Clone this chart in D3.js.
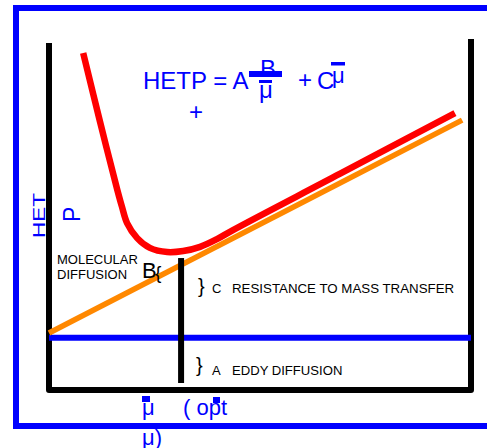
<!DOCTYPE html>
<html>
<head>
<meta charset="utf-8">
<script src="https://cdn.jsdelivr.net/npm/d3@7"></script>
<style>
  body { margin: 0; background: #fff; }
  svg { display: block; font-family: "Liberation Sans", Arial, sans-serif; }
</style>
</head>
<body>
<svg id="chart"></svg>
<script>
const WIDTH = 487;
const HEIGHT = 448;

// --- data (velocity u vs HETP, arbitrary units) ---
const hetpU = [0.81, 1.21, 1.62, 1.73, 1.85, 2.09, 2.39, 2.80, 3.18, 3.58, 3.98, 4.36, 6.90, 9.62];
const hetpH = [9.63, 7.66, 5.71, 5.23, 4.77, 4.34, 4.06, 3.94, 3.97, 4.09, 4.31, 4.57, 6.18, 7.91];
const massU = [0, 9.79];
const massH = [1.63, 7.71];
const eddyU = [0, 10];
const eddyH = [1.49, 1.49];
const optU = [3.13, 3.13];
const optH = [0.2, 3.77];

const BLUE = "#0000ff";

const svg = d3.select("#chart")
    .attr("width", WIDTH)
    .attr("height", HEIGHT);

const x = d3.scaleLinear().domain([0, 10]).range([49, 471]);
const y = d3.scaleLinear().domain([0, 10]).range([390, 40]);

const line = d3.line()
    .x(d => x(d[0]))
    .y(d => y(d[1]));

const smooth = d3.line()
    .x(d => x(d[0]))
    .y(d => y(d[1]))
    .curve(d3.curveCatmullRom.alpha(0.5));

// outer blue frame (open on the right)
svg.append("path")
    .attr("d", "M600,8 L16,8 L16,426 L600,426")
    .attr("fill", "none")
    .attr("stroke", BLUE)
    .attr("stroke-width", 6);

// black U-shaped axes
svg.append("path")
    .attr("d", `M${x(0)},43 L${x(0)},${y(0)} L${x(10)},${y(0)} L${x(10)},39`)
    .attr("fill", "none")
    .attr("stroke", "#000")
    .attr("stroke-width", 6)
    .attr("stroke-linejoin", "round");

// eddy diffusion (A term)
svg.append("path")
    .attr("d", line(d3.zip(eddyU, eddyH)))
    .attr("fill", "none")
    .attr("stroke", BLUE)
    .attr("stroke-width", 6);

// A + C*u line
svg.append("path")
    .attr("d", line(d3.zip(massU, massH)))
    .attr("fill", "none")
    .attr("stroke", "#ff8800")
    .attr("stroke-width", 5.5);

// HETP curve
svg.append("path")
    .attr("d", smooth(d3.zip(hetpU, hetpH)))
    .attr("fill", "none")
    .attr("stroke", "#ff0000")
    .attr("stroke-width", 6.5);

// optimum velocity marker
svg.append("path")
    .attr("d", line(d3.zip(optU, optH)))
    .attr("fill", "none")
    .attr("stroke", "#000")
    .attr("stroke-width", 6);

// --- equation ---
const eq = svg.append("g").attr("fill", BLUE).attr("font-size", 24);
eq.append("text").attr("x", 143).attr("y", 89).text("HETP = A");
eq.append("text").attr("x", 260).attr("y", 77).text("B");
eq.append("rect").attr("x", 249).attr("y", 71).attr("width", 33).attr("height", 6);
eq.append("rect").attr("x", 259).attr("y", 80).attr("width", 13).attr("height", 3);
eq.append("text").attr("x", 259).attr("y", 98).text("μ");
eq.append("text").attr("x", 298).attr("y", 88).text("+");
eq.append("text").attr("x", 317).attr("y", 89).text("C");
eq.append("rect").attr("x", 331).attr("y", 62).attr("width", 14).attr("height", 3.5);
eq.append("text").attr("x", 332).attr("y", 83).attr("font-size", 22).text("μ");
eq.append("text").attr("x", 189).attr("y", 120).text("+");

// --- y label ---
svg.append("text")
    .attr("transform", "translate(45,238) rotate(-90)")
    .attr("fill", BLUE)
    .attr("font-size", 17)
    .attr("textLength", 45)
    .attr("lengthAdjust", "spacingAndGlyphs")
    .text("HET");
svg.append("text")
    .attr("transform", "translate(80,222) rotate(-90)")
    .attr("fill", BLUE)
    .attr("font-size", 23)
    .text("P");

// --- annotations ---
const ann = svg.append("g").attr("fill", "#000");
ann.append("text").attr("x", 57).attr("y", 264).attr("font-size", 13).text("MOLECULAR");
ann.append("text").attr("x", 57).attr("y", 279).attr("font-size", 13).text("DIFFUSION");
ann.append("text").attr("x", 142).attr("y", 278).attr("font-size", 22).text("B");
ann.append("text").attr("x", 155).attr("y", 279).attr("font-size", 19).text("{");

ann.append("text").attr("x", 198).attr("y", 293).attr("font-size", 20).text("}");
ann.append("text").attr("x", 212).attr("y", 293).attr("font-size", 13).text("C");
ann.append("text").attr("x", 232).attr("y", 293).attr("font-size", 13.3).text("RESISTANCE TO MASS TRANSFER");

ann.append("text").attr("x", 196).attr("y", 372).attr("font-size", 20).text("}");
ann.append("text").attr("x", 212).attr("y", 375).attr("font-size", 13).text("A");
ann.append("text").attr("x", 232).attr("y", 375).attr("font-size", 13.1).text("EDDY DIFFUSION");

// --- x label (u opt) ---
const xl = svg.append("g").attr("fill", BLUE).attr("font-size", 22);
xl.append("rect").attr("x", 142).attr("y", 396).attr("width", 8).attr("height", 6);
xl.append("text").attr("x", 142).attr("y", 415).text("μ");
xl.append("text").attr("x", 183).attr("y", 415).text("( opt");
xl.append("rect").attr("x", 213).attr("y", 397).attr("width", 7).attr("height", 6);
xl.append("text").attr("x", 142).attr("y", 445).text("μ)");
</script>
</body>
</html>
